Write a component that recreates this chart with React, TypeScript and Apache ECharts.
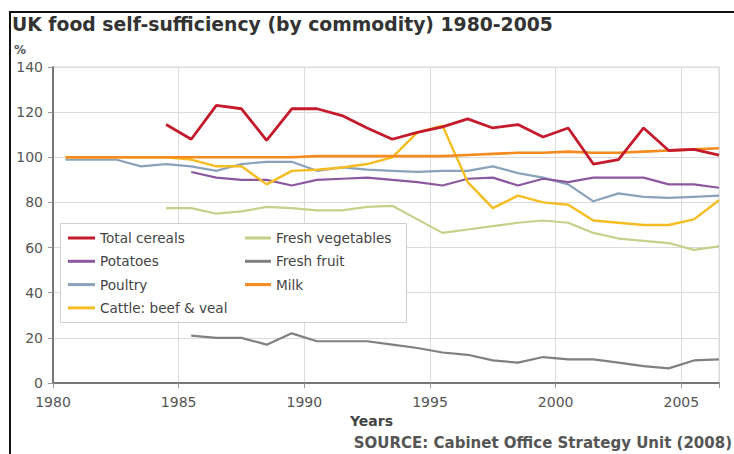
import React, { useEffect, useRef } from "react";
import * as echarts from "echarts";

// Data points are plotted at mid-year positions (e.g. 1984.5)
const cerealsStart = 1984.5;
const cereals = [114.5, 108, 123, 121.5, 107.5, 121.5, 121.5, 118.5, 113, 108, 111, 113.5, 117, 113, 114.5, 109, 113, 97, 99, 113, 103, 103.5, 101];

const potatoesStart = 1985.5;
const potatoes = [93.5, 91, 90, 90, 87.5, 90, 90.5, 91, 90, 89, 87.5, 90.5, 91, 87.5, 90.5, 89, 91, 91, 91, 88, 88, 86.5];

const poultryStart = 1980.5;
const poultry = [99, 99, 99, 96, 97, 96, 94, 97, 98, 98, 94, 95.5, 94.5, 94, 93.5, 94, 94, 96, 93, 91, 88, 80.5, 84, 82.5, 82, 82.5, 83];

const cattleStart = 1980.5;
const cattle = [100, 100, 100, 100, 100, 99, 96, 96, 88, 94, 94.5, 95.5, 97, 100, 111, 114, 89, 77.5, 83, 80, 79, 72, 71, 70, 70, 72.5, 81];

const vegStart = 1984.5;
const vegetables = [77.5, 77.5, 75, 76, 78, 77.5, 76.5, 76.5, 78, 78.5, 72.5, 66.5, 68, 69.5, 71, 72, 71, 66.5, 64, 63, 62, 59, 60.5];

const fruitStart = 1985.5;
const fruit = [21, 20, 20, 17, 22, 18.5, 18.5, 18.5, 17, 15.5, 13.5, 12.5, 10, 9, 11.5, 10.5, 10.5, 9, 7.5, 6.5, 10, 10.5];

const milkStart = 1980.5;
const milk = [100, 100, 100, 100, 100, 100, 100, 100, 100, 100, 100.5, 100.5, 100.5, 100.5, 100.5, 100.5, 101, 101.5, 102, 102, 102.5, 102, 102, 102.5, 103, 103.5, 104];

const legendCol1 = ["Total cereals", "Potatoes", "Poultry", "Cattle: beef & veal"];
const legendCol2 = ["Fresh vegetables", "Fresh fruit", "Milk"];

const xMin = 1980;
const xMax = 2006.5;
const yMin = 0;
const yMax = 140;

const toPairs = (start: number, vals: number[]) => vals.map((v, i) => [start + i, v]);

const FONT = "DejaVu Sans";

export default function App() {
  const ref = useRef<HTMLDivElement>(null);
  useEffect(() => {
    document.body.style.margin = "0";
    const chart = echarts.init(ref.current!, undefined, { renderer: "svg" });
    const mk = (name: string, start: number, vals: number[], color: string, width: number) => ({
      type: "line",
      name,
      data: toPairs(start, vals),
      symbol: "none",
      showSymbol: false,
      lineStyle: { color, width },
      itemStyle: { color },
      emphasis: { disabled: true },
    });
    const legendBase = {
      orient: "vertical",
      top: 231,
      padding: 0,
      icon: "rect",
      itemWidth: 27,
      itemHeight: 3,
      itemGap: 9.3,
      z: 10,
      textStyle: { fontFamily: FONT, fontSize: 13.6, lineHeight: 14, color: "#444" },
      selectedMode: false,
    };
    chart.setOption({
      animation: false,
      textStyle: { fontFamily: FONT },
      grid: {
        left: 53,
        right: 15,
        top: 67,
        bottom: 71,
        show: true,
        borderColor: "#d8d8d8",
        borderWidth: 1,
        backgroundColor: "transparent",
      },
      legend: [
        { ...legendBase, left: 68, data: legendCol1 },
        { ...legendBase, left: 245, itemWidth: 26, data: legendCol2 },
      ],
      xAxis: {
        type: "value",
        min: xMin,
        max: xMax,
        interval: 5,
        axisLine: { show: true, lineStyle: { color: "#777", width: 2 } },
        axisTick: { show: true, length: 5, lineStyle: { color: "#999" } },
        axisLabel: {
          margin: 12,
          fontSize: 14,
          color: "#555",
          fontFamily: FONT,
          formatter: (v: number) => (v % 5 === 0 ? String(v) : ""),
        },
        splitLine: { show: true, lineStyle: { color: "#dcdcdc", width: 1 } },
      },
      yAxis: {
        type: "value",
        min: yMin,
        max: yMax,
        interval: 20,
        axisLine: { show: true, lineStyle: { color: "#777", width: 2 } },
        axisTick: { show: true, length: 5, lineStyle: { color: "#999" } },
        axisLabel: { margin: 10, fontSize: 14, color: "#555", fontFamily: FONT },
        splitLine: { show: true, lineStyle: { color: "#dcdcdc", width: 1 } },
      },
      graphic: [
        { type: "line", shape: { x1: 9, y1: 12, x2: 734, y2: 12 }, style: { stroke: "#111", lineWidth: 2 } },
        { type: "line", shape: { x1: 10, y1: 11, x2: 10, y2: 454 }, style: { stroke: "#111", lineWidth: 2 } },
        {
          type: "text",
          x: 12,
          y: 24,
          style: {
            text: "UK food self-sufficiency (by commodity) 1980-2005",
            fontFamily: FONT,
            fontSize: 18.8,
            fontWeight: "bold",
            fill: "#333",
            textVerticalAlign: "middle",
          },
        },
        {
          type: "text",
          x: 14,
          y: 50,
          style: { text: "%", fontFamily: FONT, fontSize: 12, fontWeight: "bold", fill: "#555", textVerticalAlign: "middle" },
        },
        {
          type: "rect",
          z: 3,
          shape: { x: 60.5, y: 223.5, width: 346, height: 99 },
          style: { fill: "#fff", stroke: "#cfcfcf", lineWidth: 1 },
        },
        {
          type: "text",
          x: 350,
          y: 421,
          style: { text: "Years", fontFamily: FONT, fontSize: 14, fontWeight: "bold", fill: "#444", textVerticalAlign: "middle" },
        },
        {
          type: "text",
          x: 732,
          y: 443,
          style: {
            text: "SOURCE: Cabinet Office Strategy Unit (2008)",
            fontFamily: FONT,
            fontSize: 15,
            fontWeight: "bold",
            fill: "#555",
            textAlign: "right",
            textVerticalAlign: "middle",
          },
        },
      ],
      series: [
        mk("Fresh fruit", fruitStart, fruit, "#7d827e", 2.2),
        mk("Fresh vegetables", vegStart, vegetables, "#c8cf8a", 2.2),
        mk("Poultry", poultryStart, poultry, "#8aa2ba", 2.2),
        mk("Potatoes", potatoesStart, potatoes, "#8b58a0", 2.2),
        mk("Cattle: beef & veal", cattleStart, cattle, "#f6bd22", 2.4),
        mk("Milk", milkStart, milk, "#f58a1f", 2.6),
        mk("Total cereals", cerealsStart, cereals, "#c41a2c", 2.8),
      ],
    });
    return () => chart.dispose();
  }, []);
  return <div ref={ref} style={{ width: 734, height: 454 }} />;
}
